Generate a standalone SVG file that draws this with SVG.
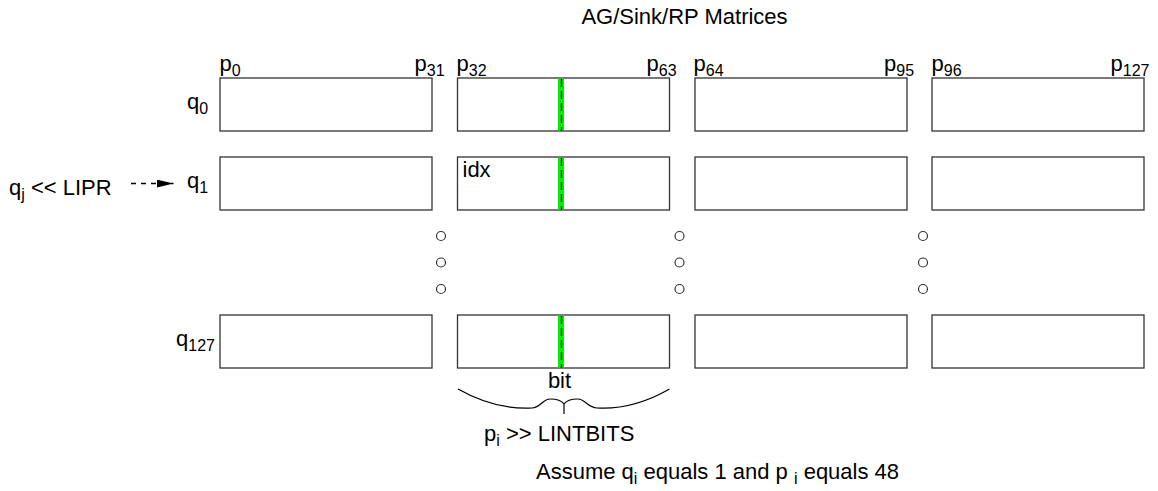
<svg xmlns="http://www.w3.org/2000/svg" width="1158" height="491" viewBox="0 0 1158 491">
<style>
text{font-family:"Liberation Sans",Arial,sans-serif;font-size:22px;fill:#000}
.sub{font-size:16px}
.box{fill:#fff;stroke:#333;stroke-width:1.3}
.dot{fill:none;stroke:#333;stroke-width:1.2}
.bitg{stroke:#00f000;stroke-width:6}
.bitd{stroke:#000;stroke-width:1.3;stroke-dasharray:8 4}
</style>
<defs>
<marker id="ah" markerWidth="18" markerHeight="8" refX="17" refY="4" orient="auto" markerUnits="userSpaceOnUse">
<path d="M0,0 L17,4 L0,8 Z" fill="#000"/>
</marker>
</defs>
<rect width="1158" height="491" fill="#fff"/>
<text x="684.5" y="24" text-anchor="middle">AG/Sink/RP Matrices</text>

<g id="col-labels">
<text x="219.5" y="71">p<tspan class="sub" dy="5">0</tspan></text>
<text x="414.5" y="71">p<tspan class="sub" dy="5">31</tspan></text>
<text x="456.5" y="71">p<tspan class="sub" dy="5">32</tspan></text>
<text x="646.5" y="71">p<tspan class="sub" dy="5">63</tspan></text>
<text x="693.5" y="71">p<tspan class="sub" dy="5">64</tspan></text>
<text x="884" y="71">p<tspan class="sub" dy="5">95</tspan></text>
<text x="931.5" y="71">p<tspan class="sub" dy="5">96</tspan></text>
<text x="1110.5" y="71">p<tspan class="sub" dy="5">127</tspan></text>
</g>
<g id="row-labels">
<text x="187" y="109">q<tspan class="sub" dy="5">0</tspan></text>
<text x="187" y="188">q<tspan class="sub" dy="5">1</tspan></text>
<text x="176" y="346">q<tspan class="sub" dy="5">127</tspan></text>
</g>

<g id="row0">
<rect class="box" x="220" y="78" width="212" height="53"/>
<rect class="box" x="457.5" y="78" width="212" height="53"/>
<rect class="box" x="695" y="78" width="212" height="53"/>
<rect class="box" x="932" y="78" width="212" height="53"/>
</g>
<g id="row1">
<rect class="box" x="220" y="157" width="212" height="53"/>
<rect class="box" x="457.5" y="157" width="212" height="53"/>
<rect class="box" x="695" y="157" width="212" height="53"/>
<rect class="box" x="932" y="157" width="212" height="53"/>
<text x="462.5" y="177">idx</text>
</g>
<g id="row127">
<rect class="box" x="220" y="315" width="212" height="53"/>
<rect class="box" x="457.5" y="315" width="212" height="53"/>
<rect class="box" x="695" y="315" width="212" height="53"/>
<rect class="box" x="932" y="315" width="212" height="53"/>
</g>
<g id="bits">
<line class="bitg" x1="561" y1="78.6" x2="561" y2="130.4"/>
<line class="bitd" x1="561.5" y1="79" x2="561.5" y2="131"/>
<line class="bitg" x1="561" y1="157.6" x2="561" y2="209.4"/>
<line class="bitd" x1="561.5" y1="158" x2="561.5" y2="210"/>
<line class="bitg" x1="561" y1="315.6" x2="561" y2="367.4"/>
<line class="bitd" x1="561.5" y1="316" x2="561.5" y2="368"/>
</g>
<g id="ellipsis">
<circle class="dot" cx="441" cy="236" r="4.5"/>
<circle class="dot" cx="441" cy="262.5" r="4.5"/>
<circle class="dot" cx="441" cy="289" r="4.5"/>
<circle class="dot" cx="679.5" cy="236" r="4.5"/>
<circle class="dot" cx="679.5" cy="262.5" r="4.5"/>
<circle class="dot" cx="679.5" cy="289" r="4.5"/>
<circle class="dot" cx="923" cy="236" r="4.5"/>
<circle class="dot" cx="923" cy="262.5" r="4.5"/>
<circle class="dot" cx="923" cy="289" r="4.5"/>
</g>
<g id="lipr">
<text x="9" y="195">q<tspan class="sub" dy="5">j</tspan><tspan dy="-5"> &lt;&lt; LIPR</tspan></text>
</g>
<g id="connectors">
<line x1="131" y1="183.5" x2="173.5" y2="183.5" stroke="#000" stroke-width="1.3" stroke-dasharray="5 5" marker-end="url(#ah)"/>
<path d="M458,389 Q495,410 532,408 C541,407 543,399 550,399 C558,399 562,401 564,404 L564,414 M564,404 C566,401 570,399 578,399 C585,399 588,408 597,408 Q633,410 669.5,389" fill="none" stroke="#000" stroke-width="1.2"/>
</g>
<g id="bottom">
<text x="559.5" y="388" text-anchor="middle">bit</text>
<text x="484" y="441">p<tspan class="sub" dy="5">i</tspan><tspan dy="-5"> &gt;&gt; LINTBITS</tspan></text>
<text x="536" y="479">Assume q<tspan class="sub" dy="5">i</tspan><tspan dy="-5"> equals 1 and p </tspan><tspan class="sub" dy="5">i</tspan><tspan dy="-5">  equals 48</tspan></text>
</g>
</svg>
